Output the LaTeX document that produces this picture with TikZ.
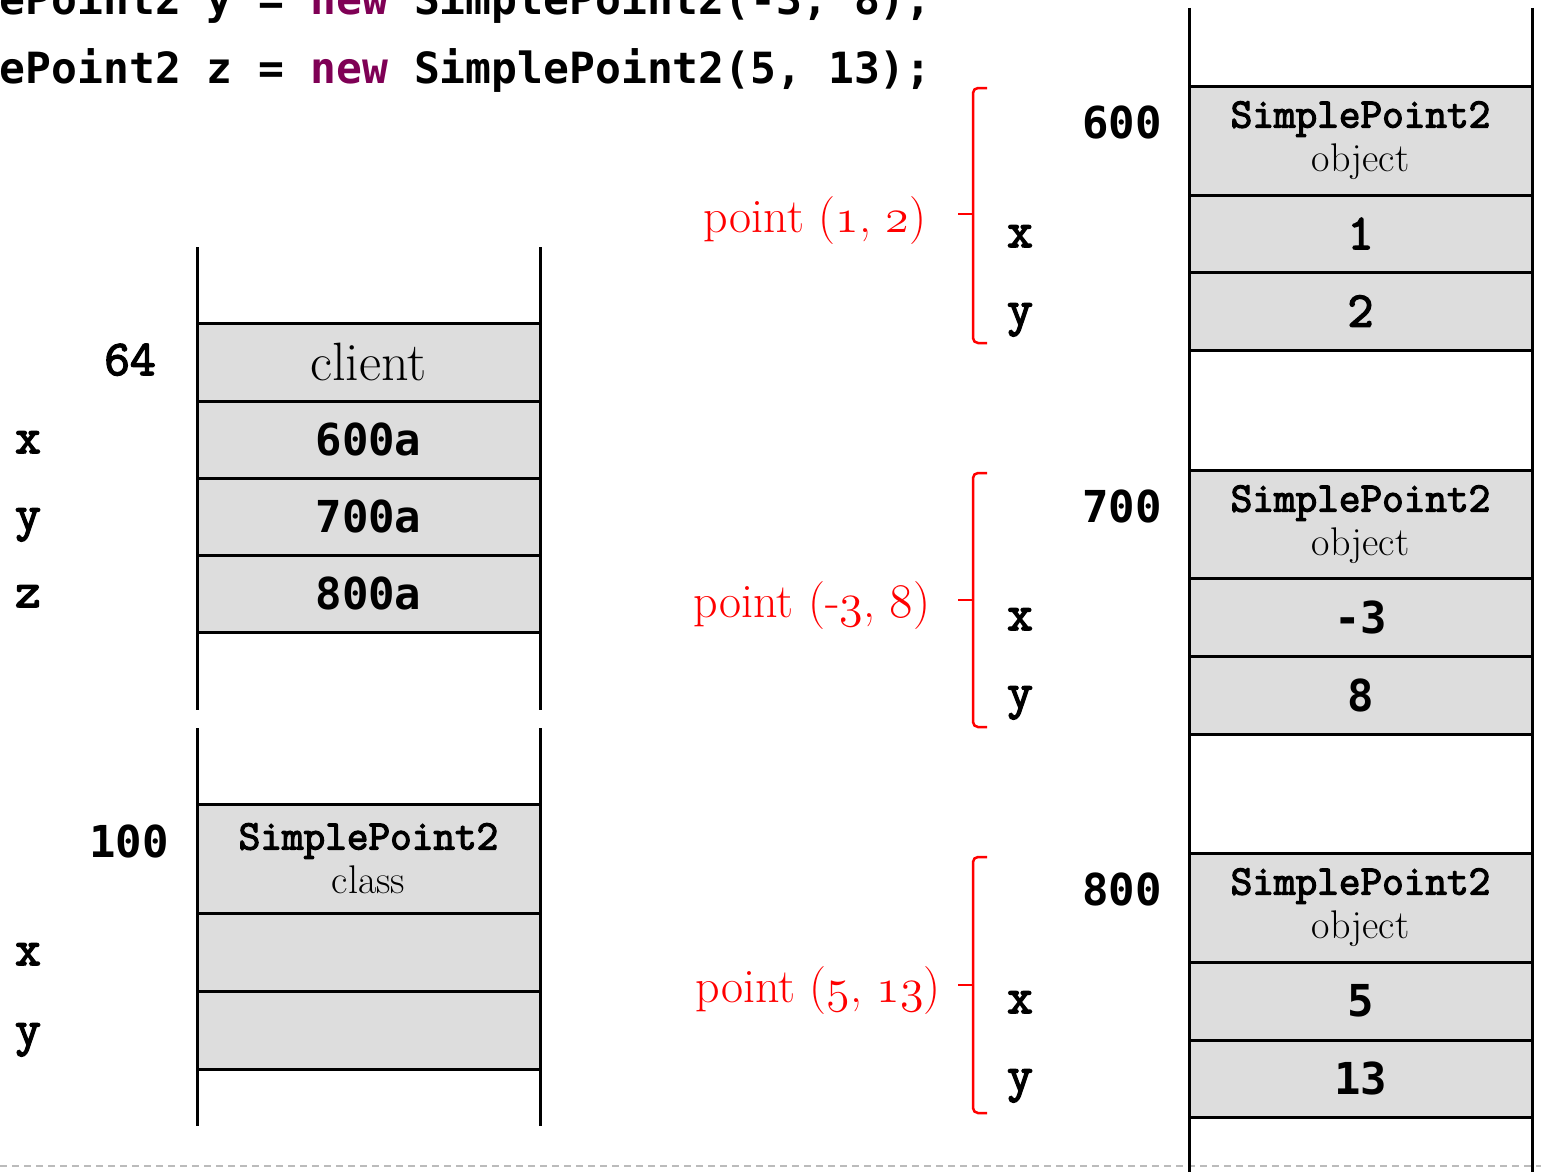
\RequirePackage{fix-cm}
\documentclass[tikz,border=0pt]{standalone}
\usepackage{fontspec}
\newfontfamily\dvm{DejaVu Sans Mono}
\newfontfamily\cour{Latin Modern Mono}[FakeBold=3]
\definecolor{cellgray}{HTML}{DDDDDD}
\definecolor{kw}{HTML}{7F0055}
\definecolor{sepgray}{HTML}{BBBBBB}
\newcommand\osn[1]{{\usefont{OML}{cmm}{m}{it}#1}}
\newcommand\spt{{\cour\fontsize{42}{44}\selectfont SimplePoint2}}
\tikzset{
  cell/.style={draw=black, fill=cellgray, line width=3pt, minimum width=343pt,
    inner sep=0pt, outer sep=0pt, anchor=north west, align=center},
  hdr/.style={cell, minimum height=109pt, font=\fontsize{40}{44}\selectfont},
  rowc/.style={cell, minimum height=78pt},
  wall/.style={line width=3pt, black},
  lab/.style={inner sep=0pt, anchor=base},
  cbold/.style={font=\cour\fontsize{50}{54}\selectfont},
  dbold/.style={font=\dvm\bfseries\fontsize{44}{48}\selectfont},
  redlab/.style={lab, red, font=\fontsize{48}{52}\selectfont},
  brace/.style={red, line width=2.5pt},
}
\begin{document}
\begin{tikzpicture}[x=1pt, y=-1pt]
\useasboundingbox (0,0) rectangle (1541,1172);
% separator
\coordinate (sepL) at (0,1166);
\coordinate (sepR) at (1541,1166);
\draw[sepgray, line width=2pt, dash pattern=on 7pt off 5pt] (sepL) -- (sepR);

% code lines
\node[anchor=base east, inner sep=0pt, font=\dvm\bfseries\fontsize{43}{48}\selectfont] (code1) at (932,15)
  {SimplePoint2 y = \textcolor{kw}{new} SimplePoint2(-3, 8);};
\node[anchor=base east, inner sep=0pt, font=\dvm\bfseries\fontsize{43}{48}\selectfont] (code2) at (932,83)
  {SimplePoint2 z = \textcolor{kw}{new} SimplePoint2(5, 13);};

% ---------- left stack: client ----------
\coordinate (a1) at (197,247); \coordinate (a2) at (197,710);
\coordinate (b1) at (540,247); \coordinate (b2) at (540,710);
\draw[wall] (a1) -- (a2); \draw[wall] (b1) -- (b2);
\node[rowc, font=\fontsize{54}{58}\selectfont] (client) at (197,323) {client};
\node[rowc, minimum height=77pt, dbold] (vx) at (197,401) {600a};
\node[rowc, minimum height=77pt, dbold] (vy) at (197,478) {700a};
\node[rowc, minimum height=77pt, dbold] (vz) at (197,555) {800a};
\node[lab, cbold] (l64) at (130,375) {64};
\node[lab, cbold] (lx) at (28,453) {x};
\node[lab, cbold] (ly) at (28,530) {y};
\node[lab, cbold] (lz) at (28,607) {z};

% ---------- left stack: class ----------
\coordinate (c1) at (197,728); \coordinate (c2) at (197,1126);
\coordinate (d1) at (540,728); \coordinate (d2) at (540,1126);
\draw[wall] (c1) -- (c2); \draw[wall] (d1) -- (d2);
\node[hdr] (cls) at (197,804) {\spt\\class};
\node[rowc] (clsx) at (197,913) {};
\node[rowc] (clsy) at (197,991) {};
\node[lab, dbold] (l100) at (129,857) {100};
\node[lab, cbold] (lcx) at (28,965) {x};
\node[lab, cbold] (lcy) at (28,1045) {y};

% ---------- right stack: heap ----------
\coordinate (e1) at (1189,8); \coordinate (e2) at (1189,1172);
\coordinate (f1) at (1532,8); \coordinate (f2) at (1532,1172);
\draw[wall] (e1) -- (e2); \draw[wall] (f1) -- (f2);

% object 600
\node[hdr] (o6) at (1189,86) {\spt\\object};
\node[rowc, minimum height=77pt, cbold] (o6x) at (1189,195) {1};
\node[rowc, cbold] (o6y) at (1189,272) {2};
\node[lab, dbold] (l600) at (1122,138) {600};
\node[lab, cbold] (o6lx) at (1020,247) {x};
\node[lab, cbold] (o6ly) at (1020,325) {y};
\draw[brace, rounded corners=5pt] (987,88) -| (973,343) -- (987,343);
\coordinate (t6a) at (958,214); \coordinate (t6b) at (973,214);
\draw[brace] (t6a) -- (t6b);
\node[redlab] (p6) at (815,232) {point (\osn{1}, \osn{2})};

% object 700
\node[hdr] (o7) at (1189,470) {\spt\\object};
\node[rowc, dbold] (o7x) at (1189,578) {-3};
\node[rowc, dbold] (o7y) at (1189,656) {8};
\node[lab, dbold] (l700) at (1122,522) {700};
\node[lab, cbold] (o7lx) at (1020,630) {x};
\node[lab, cbold] (o7ly) at (1020,708) {y};
\draw[brace, rounded corners=5pt] (987,473) -| (973,727) -- (987,727);
\coordinate (t7a) at (958,600); \coordinate (t7b) at (973,600);
\draw[brace] (t7a) -- (t7b);
\node[redlab] (p7) at (812,617) {point (-\osn{3}, \osn{8})};

% object 800
\node[hdr] (o8) at (1189,853) {\spt\\object};
\node[rowc, dbold] (o8x) at (1189,962) {5};
\node[rowc, minimum height=77pt, dbold] (o8y) at (1189,1040) {13};
\node[lab, dbold] (l800) at (1122,905) {800};
\node[lab, cbold] (o8lx) at (1020,1013) {x};
\node[lab, cbold] (o8ly) at (1020,1091) {y};
\draw[brace, rounded corners=5pt] (987,857) -| (973,1113) -- (987,1113);
\coordinate (t8a) at (958,985); \coordinate (t8b) at (973,985);
\draw[brace] (t8a) -- (t8b);
\node[redlab] (p8) at (818,1002) {point (\osn{5}, \osn{13})};
\end{tikzpicture}
\end{document}
